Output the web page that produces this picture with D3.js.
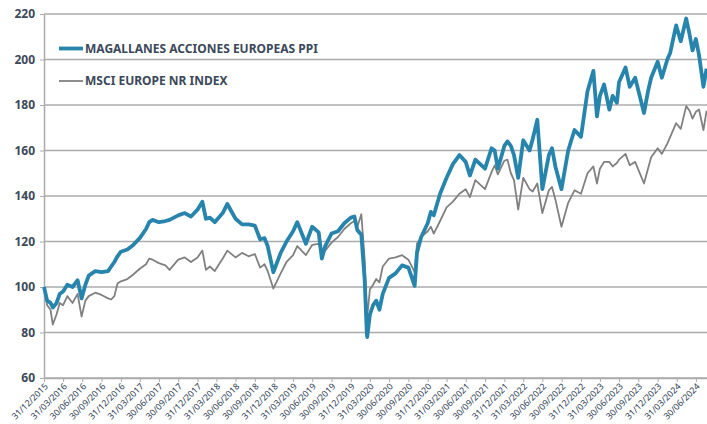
<!DOCTYPE html>
<html>
<head>
<meta charset="utf-8">
<script src="https://cdn.jsdelivr.net/npm/d3@7"></script>
<style>
  body { margin: 0; background: #fff; }
  .wrapper { width: 707px; height: 424px; }
</style>
</head>
<body>
<div class="wrapper"></div>
<script>
width = 707;
height = 424;

margin = { top: 14, right: 0, bottom: 46, left: 44 };

/* Data */
dates = [
  "2015-12-31","2016-01-15","2016-01-31","2016-02-11","2016-02-29","2016-03-15","2016-03-31","2016-04-20",
  "2016-05-15","2016-06-08","2016-06-27","2016-07-15","2016-07-31","2016-08-31","2016-09-30","2016-10-31",
  "2016-11-15","2016-11-30","2016-12-15","2016-12-31","2017-01-31","2017-02-28","2017-03-31","2017-04-30",
  "2017-05-15","2017-05-31","2017-06-30","2017-07-31","2017-08-20","2017-09-30","2017-10-31","2017-11-30",
  "2017-12-31","2018-01-23","2018-02-09","2018-02-28","2018-03-23","2018-04-30","2018-05-22","2018-06-30",
  "2018-07-31","2018-08-31","2018-09-30","2018-10-25","2018-11-15","2018-11-30","2018-12-27","2019-01-31",
  "2019-02-28","2019-03-31","2019-04-20","2019-05-31","2019-06-30","2019-07-31","2019-08-15","2019-08-31",
  "2019-09-30","2019-10-31","2019-11-30","2019-12-31","2020-01-17","2020-01-31","2020-02-19","2020-03-06",
  "2020-03-16","2020-03-18","2020-03-31","2020-04-15","2020-04-30","2020-05-15","2020-05-31","2020-06-30",
  "2020-07-31","2020-08-31","2020-09-30","2020-10-30","2020-11-10","2020-11-30","2020-12-31","2021-01-15",
  "2021-01-29","2021-02-28","2021-03-31","2021-04-30","2021-05-31","2021-06-30","2021-07-20","2021-08-15",
  "2021-09-30","2021-10-31","2021-11-15","2021-11-30","2021-12-31","2022-01-15","2022-01-31","2022-02-15",
  "2022-03-07","2022-03-31","2022-04-30","2022-05-15","2022-06-06","2022-06-30","2022-07-31","2022-08-15",
  "2022-08-31","2022-09-29","2022-10-31","2022-11-30","2022-12-31","2023-01-31","2023-02-28","2023-03-17",
  "2023-03-31","2023-04-20","2023-05-15","2023-05-31","2023-06-20","2023-06-30","2023-07-31","2023-08-20",
  "2023-09-15","2023-10-27","2023-11-15","2023-11-30","2023-12-31","2024-01-20","2024-02-15","2024-02-29",
  "2024-03-28","2024-04-19","2024-05-15","2024-05-31","2024-06-14","2024-06-30","2024-07-15","2024-08-05",
  "2024-08-20"
];

magallanes = [
  100, 94, 93, 91, 93, 97, 98, 101,
  100, 103, 95, 101, 105, 107, 106.5, 107,
  109, 111, 113.5, 115.5, 116.5, 118.5, 121.5, 125.5,
  128.5, 129.5, 128.5, 129, 129.5, 131.5, 132.5, 131,
  134, 137.5, 130, 130.5, 128.5, 132.5, 136.5, 130,
  127.5, 127.5, 127, 121, 121.5, 118, 106.5, 115,
  120, 124.5, 128.5, 119, 126.5, 124, 112.5, 118,
  123.5, 124.5, 128, 130.5, 131, 125, 123, 103,
  80, 78, 88, 92, 94, 90, 97, 104,
  106, 109.5, 108.5, 100.5, 115, 122, 128, 133,
  131.5, 141, 148, 154, 158, 155, 149, 156,
  152, 161, 160, 152, 162, 164, 162, 158,
  148, 164.5, 160, 165, 173.5, 143, 158, 161,
  153, 143, 160, 169, 166, 186, 195, 175,
  184, 189, 178, 184, 181, 190, 196.5, 188,
  192, 176.5, 186, 192, 199, 192, 200, 203,
  215, 208, 218, 211, 204, 209, 202, 188,
  196
];

msci = [
  100, 92, 90, 83.5, 88, 93, 92, 96,
  93, 97, 87, 94, 96, 97.5, 96.5, 95,
  94.5, 96, 101.5, 102.5, 103.5, 105.5, 108, 110,
  112.5, 112, 110.5, 109.5, 107.5, 112, 113, 111,
  113, 116, 107.5, 109, 107, 112.5, 116, 113,
  115, 113.5, 114.5, 108.5, 110, 107, 99.3, 106,
  111, 114, 118, 114, 118.5, 119, 114.5, 116,
  119.5, 122, 125.5, 128, 129, 126.5, 132, 112,
  89, 87, 99, 101, 103.5, 102, 109, 112.5,
  113, 114, 112, 106.5, 119, 122, 124.5, 126.5,
  123.5, 129, 135, 137.5, 141, 143, 139.5, 147,
  143, 150.5, 153.5, 149.5, 155.5, 156, 150, 147,
  134, 148, 143, 142, 145.5, 132.5, 142.5, 144,
  138.5, 126.5, 137, 142.5, 141, 150, 153, 145.5,
  152, 155, 155, 153, 154.5, 156, 158.5, 153.5,
  155, 145.5, 152, 157, 161, 158.5, 163, 166,
  172, 169.5, 179.5, 177.5, 174, 177, 178, 169,
  177.5
];

seriesNames = ["MAGALLANES ACCIONES EUROPEAS PPI", "MSCI EUROPE NR INDEX"];
seriesColors = ["#2784ad", "#808080"];

yTicks = [60, 80, 100, 120, 140, 160, 180, 200, 220];

xTickLabels = [
  "31/12/2015","31/03/2016","30/06/2016","30/09/2016","31/12/2016","31/03/2017","30/06/2017","30/09/2017",
  "31/12/2017","31/03/2018","30/06/2018","30/09/2018","31/12/2018","31/03/2019","30/06/2019","30/09/2019",
  "31/12/2019","31/03/2020","30/06/2020","30/09/2020","31/12/2020","31/03/2021","30/06/2021","30/09/2021",
  "31/12/2021","31/03/2022","30/06/2022","30/09/2022","31/12/2022","31/03/2023","30/06/2023","30/09/2023",
  "31/12/2023","31/03/2024","30/06/2024"
];

parseDate = d3.timeParse("%Y-%m-%d");
parseTick = d3.timeParse("%d/%m/%Y");

rows = dates.map(function (d, i) {
  return { date: parseDate(d), a: magallanes[i], b: msci[i] };
});

scaleX = d3.scaleTime()
  .domain([parseDate("2015-12-31"), parseDate("2024-08-22")])
  .range([margin.left, width - margin.right]);
scaleY = d3.scaleLinear().domain([60, 220]).range([height - margin.bottom, margin.top]);

/* Initialize canvas */
svg = d3.select(".wrapper")
  .append("svg")
  .attr("width", width)
  .attr("height", height)
  .attr("viewBox", "0 0 " + width + " " + height);

// horizontal gridlines
svg.append("g")
  .attr("class", "grid")
  .selectAll("line")
  .data(yTicks)
  .enter().append("line")
  .attr("x1", margin.left)
  .attr("x2", width - margin.right)
  .attr("y1", function (d) { return scaleY(d) })
  .attr("y2", function (d) { return scaleY(d) })
  .attr("stroke", "#ababab")
  .attr("stroke-width", 1.3);

// y axis
yAxis = svg.append("g")
  .attr("transform", "translate(" + margin.left + ",0)")
  .call(d3.axisLeft(scaleY).tickValues(yTicks).tickSize(4).tickSizeOuter(0).tickPadding(5));
yAxis.select(".domain").attr("stroke", "#ababab").attr("stroke-width", 1.5);
yAxis.selectAll(".tick line").attr("stroke", "#ababab");
yAxis.selectAll(".tick text")
  .attr("fill", "#3b4859")
  .style("font-family", "'Noto Sans', sans-serif")
  .style("font-weight", "bold")
  .style("font-size", "12px");

// x axis
xAxis = svg.append("g")
  .attr("transform", "translate(0," + scaleY(60) + ")")
  .call(d3.axisBottom(scaleX)
    .tickValues(xTickLabels.map(parseTick))
    .tickFormat(d3.timeFormat("%d/%m/%Y"))
    .tickSize(4)
    .tickSizeOuter(0));
xAxis.select(".domain").attr("stroke", "#ababab").attr("stroke-width", 1.5);
xAxis.selectAll(".tick line").attr("stroke", "#ababab");
xAxis.selectAll(".tick text")
  .attr("fill", "#2f3e56")
  .attr("text-anchor", "end")
  .attr("dy", 0)
  .attr("y", 0)
  .attr("transform", "translate(4,9) rotate(-45)")
  .style("font-family", "'Noto Sans', sans-serif")
  .style("font-size", "8.8px");

// lines
lineA = d3.line().x(function (d) { return scaleX(d.date) }).y(function (d) { return scaleY(d.a) });
lineB = d3.line().x(function (d) { return scaleX(d.date) }).y(function (d) { return scaleY(d.b) });

plot = svg.append("g");
plot.append("path")
  .datum(rows)
  .attr("d", lineB)
  .attr("fill", "none")
  .attr("stroke", seriesColors[1])
  .attr("stroke-width", 1.8)
  .attr("stroke-linejoin", "round");
plot.append("path")
  .datum(rows)
  .attr("d", lineA)
  .attr("fill", "none")
  .attr("stroke", seriesColors[0])
  .attr("stroke-width", 3.8)
  .attr("stroke-linejoin", "round");

// legend
legend = svg.append("g").attr("class", "legend");
legendItems = legend.selectAll("g")
  .data(seriesNames)
  .enter().append("g")
  .attr("transform", function (d, i) { return "translate(59," + (48.5 + i * 32.5) + ")" });
legendItems.append("line")
  .attr("x1", 0)
  .attr("x2", 24)
  .attr("stroke", function (d, i) { return seriesColors[i] })
  .attr("stroke-width", function (d, i) { return i == 0 ? 3.8 : 1.8 });
legendItems.append("text")
  .attr("x", 26)
  .attr("dy", "0.36em")
  .attr("fill", "#3b4859")
  .style("font-family", "'Noto Sans', sans-serif")
  .style("font-weight", "bold")
  .style("font-size", "12px")
  .text(function (d) { return d });
</script>
</body>
</html>
